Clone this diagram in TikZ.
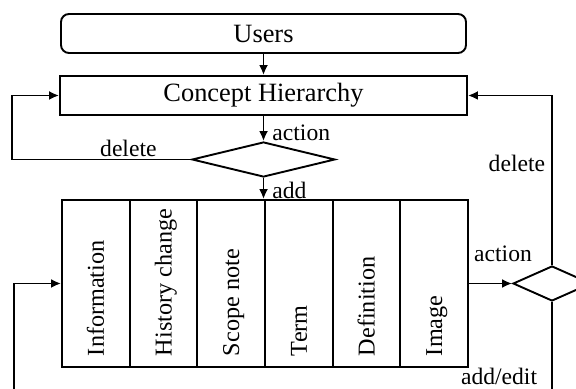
\documentclass[tikz,border=0pt]{standalone}
\usepackage{fontspec}
\setmainfont{Liberation Serif}
\usetikzlibrary{shapes.geometric,arrows.meta}

\begin{document}
\begin{tikzpicture}[x=0.5pt, y=0.5pt, >={Latex[length=5pt,width=4.5pt]},
    font=\fontsize{13.2}{15}\selectfont, line width=0.95pt,
    box/.style={draw, inner sep=0},
    choice/.style={draw, diamond, inner sep=0, minimum height=17.5pt},
    field/.style={rotate=90, anchor=base west, inner sep=0, font=\fontsize{12.1}{14}\selectfont},
    lbl/.style={inner sep=1pt, font=\fontsize{11.8}{14}\selectfont}]
    \useasboundingbox (0,0) rectangle (576,389);
    \node [box, rounded corners=4pt, minimum width=202.5pt, minimum height=19.5pt] (users) at (263.5,355.5) {Users};
    \node [box, minimum width=203.5pt, minimum height=19.5pt] (hier) at (263.5,293.5) {Concept Hierarchy};
    \node [choice, minimum width=71.5pt] (act1) at (263.5,229.5) {};
    \foreach \txt [count=\i] in {Information, History change, Scope note, Term, Definition, Image} {
        \node [box, minimum width=33.83pt, minimum height=83.5pt] (col\i) at ({62+67.67*(\i-0.5)},105.5) {};
        \node [field] (lab\i) at ({62+67.67*(\i-0.5)+8},32) {\txt};
    }
    \node [choice, minimum width=39pt] (act2) at (552,105.5) {};
    \coordinate (back1) at (12,0);
    \coordinate (back2) at (14,0);
    \coordinate (down2) at (552,0);
    % connectors
    \draw [->] (users.south) -- (hier.north);
    \draw [->] (hier.south) -- (act1.north) node [lbl, midway, right=3pt, yshift=-2pt] {action};
    \draw [->] (act1.south) -- (act1.south |- col4.north) node [lbl, midway, right=3pt, yshift=-1pt] {add};
    \draw [->] (act1.west) -- (act1.west -| back1) node [lbl, pos=0.35, above] {delete} |- (hier.west);
    \draw [->] (col6.east) -- (act2.west) node [lbl, pos=0.79, above=9.5pt] {action};
    \draw [->] (act2.north) |- (hier.east) node [lbl, pos=0.3, left=2pt] {delete};
    \draw (act2.south) -- (down2) node [lbl, pos=0.86, left=6pt] {add/edit};
    \draw [->] (back2) |- (col1.west);
\end{tikzpicture}
\end{document}
